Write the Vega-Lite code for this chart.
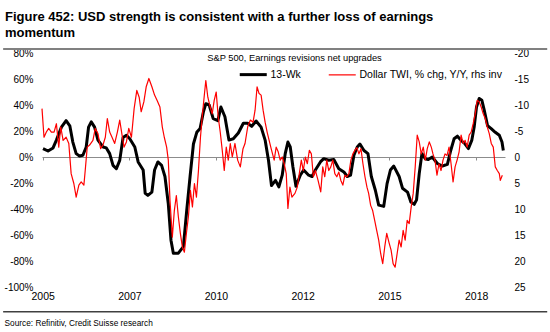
{
  "$schema": "https://vega.github.io/schema/vega-lite/v6.json",
  "width": 463,
  "height": 234,
  "autosize": {"type": "none"},
  "padding": {"left": 42, "top": 53, "right": 45, "bottom": 45},
  "background": "white",
  "config": {
    "view": {"stroke": null},
    "font": "Liberation Sans, Arial, sans-serif"
  },
  "title": {
    "text": ["Figure 452: USD strength is consistent with a further loss of earnings", "momentum"],
    "anchor": "start",
    "frame": "group",
    "dx": -37,
    "offset": 8,
    "font": "Liberation Sans, Arial, sans-serif",
    "fontSize": 13,
    "fontWeight": "bold",
    "color": "#000000",
    "lineHeight": 16
  },
  "datasets": {
    "wk": [
      {"t":2005.11,"v":6.5},{"t":2005.26,"v":4.6},{"t":2005.41,"v":7},{"t":2005.51,"v":13},{"t":2005.66,"v":23},{"t":2005.80,"v":28},{"t":2005.91,"v":24},{"t":2006.00,"v":11.5},{"t":2006.10,"v":2.6},{"t":2006.20,"v":0.8},{"t":2006.30,"v":1.3},{"t":2006.40,"v":7.7},{"t":2006.47,"v":23},{"t":2006.55,"v":27},{"t":2006.65,"v":23},{"t":2006.75,"v":13},{"t":2006.90,"v":7.7},{"t":2007.00,"v":7},{"t":2007.10,"v":2.6},{"t":2007.20,"v":-6.4},{"t":2007.30,"v":-9},{"t":2007.40,"v":-2.6},{"t":2007.50,"v":15},{"t":2007.60,"v":16.7},{"t":2007.70,"v":14},{"t":2007.85,"v":7.7},{"t":2007.95,"v":-3.8},{"t":2008.10,"v":-10},{"t":2008.16,"v":-28},{"t":2008.24,"v":-29.5},{"t":2008.36,"v":-27},{"t":2008.44,"v":-10},{"t":2008.54,"v":-3.8},{"t":2008.65,"v":-6.4},{"t":2008.75,"v":-15},{"t":2008.85,"v":-36},{"t":2008.93,"v":-64},{"t":2009.00,"v":-74},{"t":2009.15,"v":-74},{"t":2009.30,"v":-69},{"t":2009.40,"v":-41},{"t":2009.50,"v":-15},{"t":2009.60,"v":10},{"t":2009.70,"v":19},{"t":2009.80,"v":22},{"t":2009.90,"v":35},{"t":2009.97,"v":41},{"t":2010.07,"v":40},{"t":2010.19,"v":29.5},{"t":2010.33,"v":28},{"t":2010.42,"v":38.5},{"t":2010.54,"v":31},{"t":2010.66,"v":13},{"t":2010.79,"v":14},{"t":2010.94,"v":18.5},{"t":2011.09,"v":26},{"t":2011.22,"v":26},{"t":2011.34,"v":23.6},{"t":2011.47,"v":27.7},{"t":2011.62,"v":23},{"t":2011.74,"v":13},{"t":2011.84,"v":-2.5},{"t":2011.93,"v":-22},{"t":2012.05,"v":-18},{"t":2012.15,"v":-23},{"t":2012.25,"v":-14},{"t":2012.34,"v":2.6},{"t":2012.42,"v":11.5},{"t":2012.49,"v":7.7},{"t":2012.57,"v":-7.7},{"t":2012.66,"v":-22.5},{"t":2012.79,"v":-14},{"t":2012.89,"v":-10},{"t":2013.04,"v":-14},{"t":2013.14,"v":-15},{"t":2013.24,"v":-10},{"t":2013.39,"v":-3.8},{"t":2013.49,"v":-1.3},{"t":2013.64,"v":-2.5},{"t":2013.79,"v":-2},{"t":2013.94,"v":-9},{"t":2014.09,"v":-11.5},{"t":2014.19,"v":-15},{"t":2014.29,"v":-14},{"t":2014.39,"v":1.3},{"t":2014.49,"v":7.7},{"t":2014.57,"v":10},{"t":2014.69,"v":5},{"t":2014.81,"v":2.6},{"t":2014.91,"v":-15},{"t":2015.03,"v":-25.6},{"t":2015.13,"v":-37},{"t":2015.28,"v":-38},{"t":2015.38,"v":-20.5},{"t":2015.48,"v":-10},{"t":2015.58,"v":-7},{"t":2015.74,"v":-15},{"t":2015.84,"v":-24},{"t":2015.99,"v":-27},{"t":2016.09,"v":-34.6},{"t":2016.19,"v":-36.4},{"t":2016.26,"v":-33},{"t":2016.34,"v":-12.8},{"t":2016.42,"v":2.6},{"t":2016.52,"v":-1.3},{"t":2016.61,"v":-2},{"t":2016.73,"v":0},{"t":2016.88,"v":-5},{"t":2017.03,"v":-7},{"t":2017.18,"v":-5.6},{"t":2017.28,"v":5},{"t":2017.38,"v":14},{"t":2017.48,"v":16},{"t":2017.58,"v":13},{"t":2017.71,"v":10},{"t":2017.81,"v":6.5},{"t":2017.91,"v":13},{"t":2017.98,"v":23},{"t":2018.05,"v":38.5},{"t":2018.13,"v":45},{"t":2018.21,"v":43.6},{"t":2018.28,"v":36},{"t":2018.38,"v":24},{"t":2018.48,"v":22},{"t":2018.61,"v":19},{"t":2018.73,"v":16.7},{"t":2018.81,"v":11.5},{"t":2018.85,"v":5}
    ],
    "twi": [
      {"t":2005.08,"r":-9.3},{"t":2005.14,"r":-3.8},{"t":2005.21,"r":-4.8},{"t":2005.28,"r":-5.5},{"t":2005.36,"r":-4.8},{"t":2005.44,"r":-4.8},{"t":2005.51,"r":-6.4},{"t":2005.58,"r":-1.9},{"t":2005.64,"r":-5.8},{"t":2005.71,"r":-3.2},{"t":2005.80,"r":-3.8},{"t":2005.88,"r":-2.6},{"t":2005.95,"r":3.2},{"t":2006.03,"r":5.1},{"t":2006.10,"r":7.7},{"t":2006.18,"r":5.4},{"t":2006.25,"r":4.8},{"t":2006.33,"r":5.4},{"t":2006.37,"r":2.6},{"t":2006.43,"r":-1.9},{"t":2006.50,"r":-2.3},{"t":2006.60,"r":-3.2},{"t":2006.67,"r":-5.5},{"t":2006.75,"r":-4.5},{"t":2006.83,"r":-1.6},{"t":2006.90,"r":-2.3},{"t":2006.97,"r":-3.8},{"t":2007.03,"r":-7.4},{"t":2007.10,"r":-4.8},{"t":2007.17,"r":-3.8},{"t":2007.25,"r":-2.6},{"t":2007.33,"r":-4.8},{"t":2007.40,"r":-7.1},{"t":2007.47,"r":-4.2},{"t":2007.53,"r":-1.9},{"t":2007.60,"r":-2.9},{"t":2007.67,"r":-5.5},{"t":2007.75,"r":-3.8},{"t":2007.83,"r":-9.3},{"t":2007.91,"r":-12.8},{"t":2007.98,"r":-11.5},{"t":2008.04,"r":-8.7},{"t":2008.12,"r":-10.6},{"t":2008.19,"r":-13.5},{"t":2008.27,"r":-15.1},{"t":2008.36,"r":-13.5},{"t":2008.44,"r":-11.9},{"t":2008.52,"r":-10.8},{"t":2008.60,"r":-9.6},{"t":2008.67,"r":-5.8},{"t":2008.73,"r":-3.8},{"t":2008.80,"r":-1.9},{"t":2008.85,"r":0.6},{"t":2008.90,"r":8.3},{"t":2008.97,"r":15.4},{"t":2009.03,"r":10.3},{"t":2009.09,"r":7.4},{"t":2009.15,"r":11.5},{"t":2009.21,"r":14.7},{"t":2009.27,"r":17.3},{"t":2009.33,"r":18.3},{"t":2009.39,"r":14.7},{"t":2009.45,"r":11.5},{"t":2009.51,"r":6.4},{"t":2009.57,"r":9.6},{"t":2009.63,"r":5.1},{"t":2009.69,"r":7.7},{"t":2009.75,"r":2.6},{"t":2009.81,"r":-3.8},{"t":2009.87,"r":-8.3},{"t":2009.93,"r":-12.2},{"t":2009.97,"r":-14.7},{"t":2010.03,"r":-11.5},{"t":2010.10,"r":-9.6},{"t":2010.16,"r":-8.3},{"t":2010.22,"r":-10.9},{"t":2010.28,"r":-12.5},{"t":2010.34,"r":-7.7},{"t":2010.40,"r":-4.8},{"t":2010.46,"r":-1.3},{"t":2010.52,"r":2.6},{"t":2010.58,"r":-1.9},{"t":2010.64,"r":0.6},{"t":2010.70,"r":-2.6},{"t":2010.76,"r":0},{"t":2010.84,"r":-2.6},{"t":2010.92,"r":0.6},{"t":2011.00,"r":1.9},{"t":2011.08,"r":-1.6},{"t":2011.14,"r":-2.6},{"t":2011.22,"r":-5.8},{"t":2011.30,"r":-7.1},{"t":2011.38,"r":-6.7},{"t":2011.44,"r":-9},{"t":2011.50,"r":-13.5},{"t":2011.56,"r":-12.2},{"t":2011.62,"r":-11.9},{"t":2011.68,"r":-9},{"t":2011.74,"r":-6.7},{"t":2011.80,"r":-4.8},{"t":2011.86,"r":-3.2},{"t":2011.92,"r":-1.6},{"t":2012.01,"r":0.6},{"t":2012.07,"r":-1.9},{"t":2012.13,"r":-1},{"t":2012.19,"r":0.6},{"t":2012.25,"r":0},{"t":2012.31,"r":1.3},{"t":2012.37,"r":3.2},{"t":2012.42,"r":9.9},{"t":2012.48,"r":5.8},{"t":2012.54,"r":7.7},{"t":2012.63,"r":7},{"t":2012.70,"r":5.8},{"t":2012.76,"r":3.2},{"t":2012.82,"r":0.6},{"t":2012.88,"r":2.6},{"t":2012.94,"r":0},{"t":2013.00,"r":1.3},{"t":2013.06,"r":-1.3},{"t":2013.12,"r":-0.6},{"t":2013.18,"r":3.8},{"t":2013.24,"r":2.6},{"t":2013.32,"r":4.5},{"t":2013.40,"r":6.7},{"t":2013.46,"r":1.9},{"t":2013.52,"r":3.8},{"t":2013.58,"r":0.6},{"t":2013.64,"r":2.6},{"t":2013.70,"r":1.9},{"t":2013.76,"r":0.6},{"t":2013.82,"r":3.2},{"t":2013.88,"r":3.8},{"t":2013.94,"r":2.9},{"t":2014.00,"r":4.5},{"t":2014.06,"r":5.4},{"t":2014.12,"r":3.5},{"t":2014.18,"r":3.8},{"t":2014.24,"r":3.2},{"t":2014.30,"r":0.6},{"t":2014.36,"r":-0.6},{"t":2014.42,"r":-1.3},{"t":2014.48,"r":-1.8},{"t":2014.54,"r":-0.6},{"t":2014.60,"r":-1.6},{"t":2014.66,"r":1.3},{"t":2014.72,"r":3.8},{"t":2014.78,"r":5.8},{"t":2014.83,"r":7},{"t":2014.89,"r":9.3},{"t":2014.95,"r":10.3},{"t":2015.01,"r":12.2},{"t":2015.07,"r":14.1},{"t":2015.13,"r":16},{"t":2015.19,"r":18.6},{"t":2015.25,"r":20.5},{"t":2015.31,"r":17.3},{"t":2015.37,"r":14.7},{"t":2015.44,"r":16.5},{"t":2015.50,"r":17.9},{"t":2015.56,"r":20.5},{"t":2015.62,"r":21.2},{"t":2015.68,"r":18.6},{"t":2015.74,"r":16},{"t":2015.80,"r":17.3},{"t":2015.86,"r":14.1},{"t":2015.92,"r":16},{"t":2015.98,"r":12.2},{"t":2016.04,"r":12.8},{"t":2016.10,"r":9.6},{"t":2016.16,"r":7},{"t":2016.22,"r":1.9},{"t":2016.28,"r":-4.2},{"t":2016.34,"r":-2.9},{"t":2016.40,"r":-0.6},{"t":2016.46,"r":-1.9},{"t":2016.52,"r":0.6},{"t":2016.58,"r":-1.6},{"t":2016.64,"r":-2.9},{"t":2016.70,"r":-1.9},{"t":2016.75,"r":-0.6},{"t":2016.81,"r":0.6},{"t":2016.87,"r":3.5},{"t":2016.93,"r":1.3},{"t":2016.99,"r":2.6},{"t":2017.05,"r":0.6},{"t":2017.11,"r":-0.6},{"t":2017.17,"r":-0.3},{"t":2017.23,"r":-1.9},{"t":2017.29,"r":1.3},{"t":2017.35,"r":4.8},{"t":2017.41,"r":1.9},{"t":2017.47,"r":0.6},{"t":2017.53,"r":-1},{"t":2017.59,"r":-4.2},{"t":2017.65,"r":-2.6},{"t":2017.71,"r":-3.2},{"t":2017.77,"r":-1.9},{"t":2017.83,"r":-4.2},{"t":2017.89,"r":-4.8},{"t":2017.95,"r":-6.4},{"t":2018.01,"r":-8.3},{"t":2018.07,"r":-10.9},{"t":2018.13,"r":-10.6},{"t":2018.19,"r":-9.6},{"t":2018.25,"r":-8.3},{"t":2018.31,"r":-7.4},{"t":2018.37,"r":-5.8},{"t":2018.43,"r":-4.5},{"t":2018.49,"r":-2.6},{"t":2018.55,"r":-1.9},{"t":2018.61,"r":1.9},{"t":2018.67,"r":2.6},{"t":2018.73,"r":3.2},{"t":2018.76,"r":4.5},{"t":2018.82,"r":3.5}
    ]
  },
  "layer": [
    {
      "data": {"name": "wk"},
      "mark": {"type": "line", "strokeWidth": 3, "strokeJoin": "round"},
      "encoding": {
        "x": {
          "field": "t",
          "type": "quantitative",
          "scale": {"domain": [2005.08, 2018.9], "nice": false, "zero": false},
          "axis": {
            "values": [2005.1, 2007.69, 2010.27, 2012.86, 2015.45, 2018.04],
            "labelExpr": "'' + floor(datum.value)",
            "offset": -130,
            "grid": false,
            "domainColor": "#8c8c8c",
            "tickColor": "#8c8c8c",
            "tickSize": 3,
            "labelPadding": 131,
            "labelFontSize": 10.5,
            "labelColor": "#000000",
            "labelFlush": false,
            "title": "Source: Refinitiv, Credit Suisse research",
            "titleFont": "Liberation Sans, Arial, sans-serif",
            "titleFontSize": 8.3,
            "titleFontWeight": "normal",
            "titleColor": "#000000",
            "titleAnchor": "start",
            "titleAlign": "left",
            "titleBaseline": "alphabetic",
            "titleX": -38,
            "titleY": 168
          }
        },
        "y": {
          "field": "v",
          "type": "quantitative",
          "scale": {"domain": [-100, 80], "nice": false, "zero": false},
          "axis": {
            "values": [-100, -80, -60, -40, -20, 0, 20, 40, 60, 80],
            "labelExpr": "datum.value + '%'",
            "domain": false,
            "ticks": false,
            "tickSize": 0,
            "grid": false,
            "labelPadding": 9,
            "labelFontSize": 10,
            "labelColor": "#000000",
            "title": "S&P 500, Earnings revisions net upgrades",
            "titleAngle": 0,
            "titleX": 252,
            "titleY": 4,
            "titleAlign": "center",
            "titleBaseline": "middle",
            "titleFontSize": 9.3,
            "titleFontWeight": "normal",
            "titleColor": "#000000"
          }
        },
        "color": {
          "datum": "13-Wk",
          "type": "nominal",
          "scale": {"domain": ["13-Wk", "Dollar TWI, % chg, Y/Y, rhs inv"], "range": ["#000000", "#ff0000"]},
          "legend": {
            "orient": "none",
            "legendX": 206,
            "legendY": 16,
            "direction": "horizontal",
            "title": null,
            "padding": 0,
            "symbolType": "stroke",
            "symbolSize": 729,
            "labelOffset": 12,
            "columnPadding": 25,
            "labelFontSize": 10.5,
            "labelColor": "#000000",
            "labelLimit": 300,
            "encode": {
              "symbols": {"update": {"strokeWidth": {"signal": "datum.value === '13-Wk' ? 3 : 1.2"}}}
            }
          }
        }
      }
    },
    {
      "data": {"name": "twi"},
      "mark": {"type": "line", "strokeWidth": 1.2, "strokeJoin": "round"},
      "encoding": {
        "x": {"field": "t", "type": "quantitative"},
        "y": {
          "field": "r",
          "type": "quantitative",
          "scale": {"domain": [-20, 25], "reverse": true, "nice": false, "zero": false},
          "axis": {
            "orient": "right",
            "values": [-20, -15, -10, -5, 0, 5, 10, 15, 20, 25],
            "labelExpr": "'' + datum.value",
            "domain": false,
            "ticks": false,
            "tickSize": 0,
            "grid": false,
            "labelPadding": 9,
            "labelFontSize": 10,
            "labelColor": "#000000",
            "title": null
          }
        },
        "color": {"datum": "Dollar TWI, % chg, Y/Y, rhs inv", "type": "nominal"}
      }
    },
    {
      "data": {"values": [{}]},
      "mark": {"type": "rule", "color": "#808080", "strokeWidth": 2, "clip": false},
      "encoding": {
        "x": {"datum": 2003.92, "type": "quantitative"},
        "x2": {"datum": 2020.16},
        "y": {"datum": 83.1, "type": "quantitative", "scale": {"domain": [-100, 80], "nice": false, "zero": false}, "axis": null}
      }
    },
    {
      "data": {"values": [{}]},
      "mark": {"type": "rule", "color": "#404040", "strokeWidth": 1.5, "clip": false},
      "encoding": {
        "x": {"datum": 2003.92, "type": "quantitative"},
        "x2": {"datum": 2020.16},
        "y": {"datum": -119, "type": "quantitative", "scale": {"domain": [-100, 80], "nice": false, "zero": false}, "axis": null}
      }
    }
  ],
  "resolve": {"scale": {"y": "independent"}}
}
